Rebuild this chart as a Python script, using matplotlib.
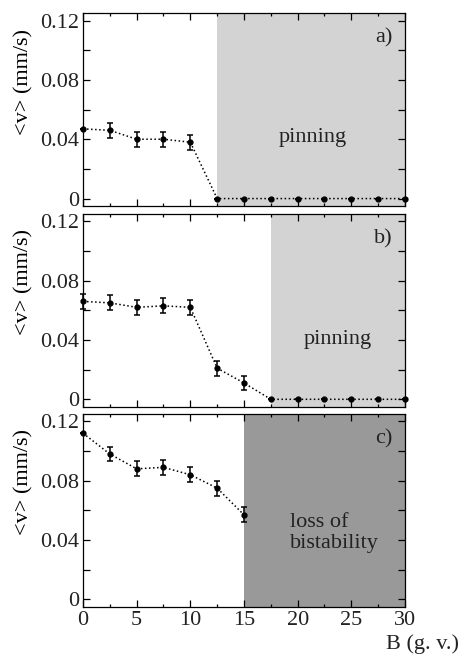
import numpy as np
import matplotlib
matplotlib.use('Agg')
from matplotlib import pyplot as plt
from matplotlib.ticker import MultipleLocator, FuncFormatter

plt.rcParams['font.family'] = ['Liberation Serif', 'DejaVu Serif']
plt.rcParams['font.size'] = 16
plt.rcParams['text.color'] = '#222222'
plt.rcParams['xtick.labelcolor'] = '#222222'
plt.rcParams['ytick.labelcolor'] = '#222222'

# field values B (g. v.)
b_a = [0, 2.5, 5, 7.5, 10, 12.5, 15, 17.5, 20, 22.5, 25, 27.5, 30]
v_a = [0.047, 0.046, 0.040, 0.040, 0.038, 0, 0, 0, 0, 0, 0, 0, 0]
e_a = [0, 0.005, 0.005, 0.005, 0.005, 0, 0, 0, 0, 0, 0, 0, 0]

b_b = [0, 2.5, 5, 7.5, 10, 12.5, 15, 17.5, 20, 22.5, 25, 27.5, 30]
v_b = [0.066, 0.065, 0.062, 0.063, 0.062, 0.021, 0.011, 0, 0, 0, 0, 0, 0]
e_b = [0.005, 0.005, 0.005, 0.005, 0.005, 0.005, 0.005, 0, 0, 0, 0, 0, 0]

b_c = [0, 2.5, 5, 7.5, 10, 12.5, 15]
v_c = [0.112, 0.098, 0.088, 0.089, 0.084, 0.075, 0.057]
e_c = [0, 0.005, 0.005, 0.005, 0.005, 0.005, 0.005]

# start of the shaded region in each panel
shade_start = [12.5, 17.5, 15]
shade_color = ['#d3d3d3', '#d3d3d3', '#999999']
panel_tags = ['a)', 'b)', 'c)']

fig = plt.figure(figsize=(4.61, 6.56), dpi=100)
bottoms = [0.686, 0.380, 0.075]
axes = [fig.add_axes([0.180, b, 0.6985, 0.294]) for b in bottoms]

data = [(b_a, v_a, e_a), (b_b, v_b, e_b), (b_c, v_c, e_c)]


def fmt_y(v, pos):
	if abs(v) < 1e-9:
		return '0'
	return '%.2f' % v


for i, ax in enumerate(axes):
	x, y, err = data[i]
	ax.axvspan(shade_start[i], 30, color=shade_color[i], lw=0, zorder=0)
	ax.plot(x, y, color='black', ls=':', lw=1.1, zorder=2)
	ax.errorbar(x, y, yerr=err, fmt='o', color='black', ms=3.5,
				ecolor='black', elinewidth=1.1, capsize=2.5, capthick=1.1,
				clip_on=False, zorder=3)
	ax.set_xlim(0, 30)
	ax.set_ylim(-0.005, 0.125)
	ax.xaxis.set_major_locator(MultipleLocator(5))
	ax.xaxis.set_minor_locator(MultipleLocator(2.5))
	ax.yaxis.set_major_locator(MultipleLocator(0.04))
	ax.yaxis.set_minor_locator(MultipleLocator(0.02))
	ax.yaxis.set_major_formatter(FuncFormatter(fmt_y))
	ax.tick_params(which='both', direction='in', top=True, right=True, width=0.9)
	ax.tick_params(which='major', length=5, pad=3)
	ax.tick_params(axis='y', which='minor', length=5)
	ax.tick_params(axis='x', which='minor', length=2.5)
	for s in ax.spines.values():
		s.set_linewidth(0.9)
	if i < 2:
		ax.tick_params(labelbottom=False)
	ax.set_ylabel('<v> (mm/s)', fontsize=16)
	ax.yaxis.set_label_coords(-0.155, 0.645)
	ax.text(28.0, 0.105, panel_tags[i], ha='center', va='baseline', fontsize=16)

axes[0].text(21.4, 0.038, 'pinning', ha='center', va='baseline', fontsize=16)
axes[1].text(23.7, 0.037, 'pinning', ha='center', va='baseline', fontsize=16)
axes[2].text(19.3, 0.045, 'loss of\nbistability', ha='left', va='center',
			 fontsize=16, linespacing=1.15)

fig.text(0.995, 0.003, 'B (g. v.)', ha='right', va='bottom', fontsize=16)

fig.savefig('out.png', dpi=100)
